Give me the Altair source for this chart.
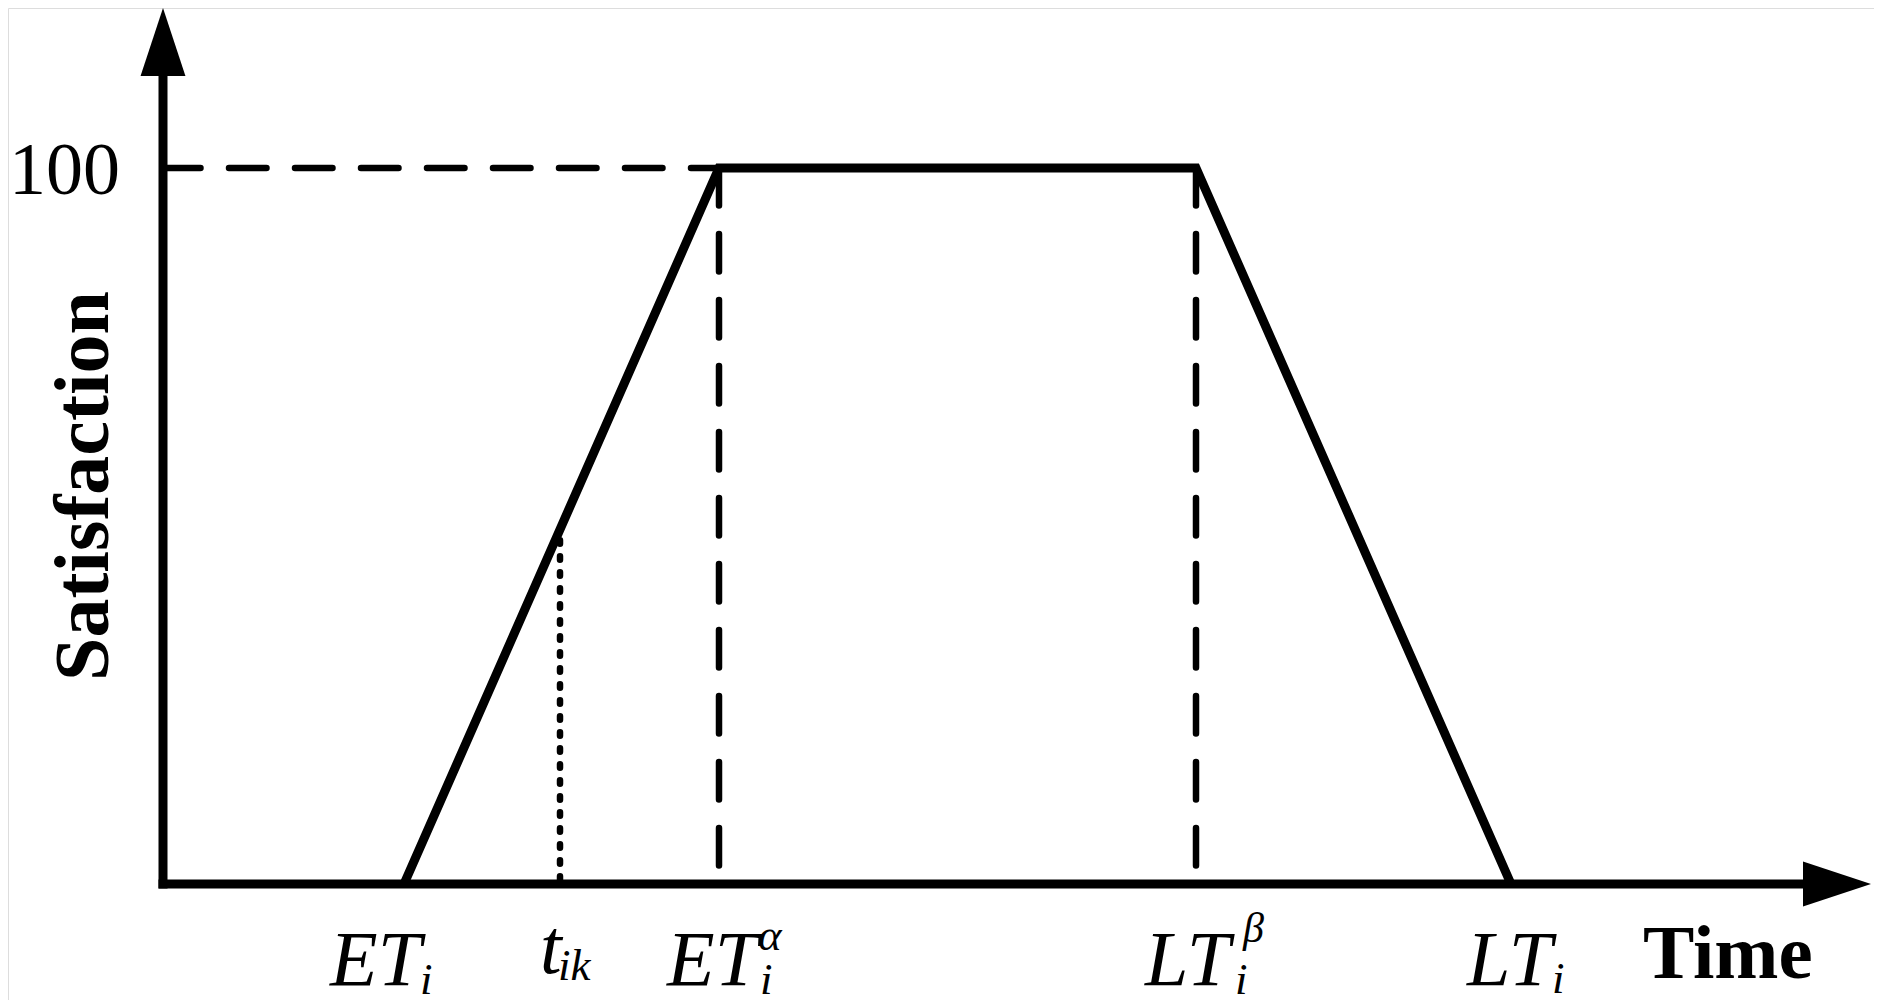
import altair as alt
import pandas as pd

# ---------------- data ----------------
curve_time = [24.1, 55.6, 103.3, 134.8]          # ET_i, ET_i^a, LT_i^b, LT_i
curve_sat = [0, 100, 100, 0]
tick_names = ["ET_i", "t_ik", "ET_i^alpha", "LT_i^beta", "LT_i"]
tick_time = [24.1, 39.7, 55.6, 103.3, 134.8]
t_ik_sat = 48.0
sat_max = 100
y_tick_label = "100"
axis_time_tip = 170.8
axis_sat_tip = 122.35

# ---------------- scales ----------------
W, H = 1866, 992
xs = alt.Scale(domain=[-15.5, 171.1], nice=False, zero=False)
ys = alt.Scale(domain=[-16.2, 122.35], nice=False, zero=False)
SERIF = "Liberation Serif"


def X(f="t"):
    return alt.X(f + ":Q", scale=xs, axis=None)


def Y(f="s"):
    return alt.Y(f + ":Q", scale=ys, axis=None)


tick = dict(zip(tick_names, tick_time))

# axes lines
axis_df = pd.DataFrame({"t": [0.0], "s": [0.0],
                        "t2": [axis_time_tip - 6.0], "s2": [axis_sat_tip - 8.5]})
x_axis = alt.Chart(axis_df).mark_rule(color="black", strokeWidth=9, strokeCap="square").encode(
    x=X(), x2="t2:Q", y=Y())
y_axis = alt.Chart(axis_df).mark_rule(color="black", strokeWidth=9, strokeCap="square").encode(
    x=X(), y=Y(), y2="s2:Q")

# arrow heads
x_arrow = alt.Chart(pd.DataFrame({"t": [axis_time_tip], "s": [0.0]})).mark_point(
    shape="M0,0L-2,-0.66L-2,0.66Z", size=4624, filled=True, fill="black",
    strokeWidth=0, opacity=1).encode(x=X(), y=Y())
y_arrow = alt.Chart(pd.DataFrame({"t": [0.0], "s": [axis_sat_tip]})).mark_point(
    shape="M0,0L-0.66,2L0.66,2Z", size=4624, filled=True, fill="black",
    strokeWidth=0, opacity=1).encode(x=X(), y=Y())

# dashed guide lines
h_dash = alt.Chart(pd.DataFrame({"t": [0.0], "t2": [tick["ET_i^alpha"]], "s": [sat_max]})).mark_rule(
    color="black", strokeWidth=6.5, strokeDash=[37.5, 28.5], strokeCap="round").encode(
    x=X(), x2="t2:Q", y=Y())
v_dash = alt.Chart(pd.DataFrame({"t": [tick["ET_i^alpha"], tick["LT_i^beta"]],
                                 "s": [sat_max, sat_max], "s2": [0.0, 0.0]})).mark_rule(
    color="black", strokeWidth=6.5, strokeDash=[37.5, 28.5], strokeCap="round").encode(
    x=X(), y=Y(), y2="s2:Q")
dotted = alt.Chart(pd.DataFrame({"t": [tick["t_ik"]], "s": [t_ik_sat], "s2": [0.0]})).mark_rule(
    color="black", strokeWidth=6.5, strokeDash=[3.5, 12.5], strokeCap="round").encode(
    x=X(), y=Y(), y2="s2:Q")

# satisfaction curve
curve_df = pd.DataFrame({"t": curve_time, "s": curve_sat, "i": range(len(curve_time))})
curve = alt.Chart(curve_df).mark_line(color="black", strokeWidth=9, strokeJoin="miter",
                                      strokeMiterLimit=20).encode(
    x=X(), y=Y(), order="i:Q")

# tick labels (main text, subscript, superscript pieces)
pieces = [
    ("ET_i", "ET", -74, 101, 78), ("ET_i", "i", 16, 110, 45),
    ("t_ik", "t", -20, 89, 78), ("t_ik", "ik", -2, 96, 45),
    ("ET_i^alpha", "ET", -52, 101, 78), ("ET_i^alpha", "i", 41, 110, 45), ("ET_i^alpha", "α", 39, 66, 45),
    ("LT_i^beta", "LT", -51, 101, 78), ("LT_i^beta", "i", 39, 110, 45), ("LT_i^beta", "β", 47, 58, 42),
    ("LT_i", "LT", -44, 101, 78), ("LT_i", "i", 41, 109, 45),
]
label_layers = []
for name, txt, dx, dy, fs in pieces:
    d = pd.DataFrame({"t": [tick[name]], "s": [0.0], "txt": [txt]})
    label_layers.append(
        alt.Chart(d).mark_text(align="left", baseline="alphabetic", dx=dx, dy=dy,
                               font=SERIF, fontStyle="italic", fontSize=fs, color="black").encode(
            x=X(), y=Y(), text="txt:N"))

# y tick label "100"
y_lab = alt.Chart(pd.DataFrame({"t": [0.0], "s": [float(sat_max)], "txt": [y_tick_label]})).mark_text(
    align="right", baseline="alphabetic", dx=-43, dy=26, font=SERIF, fontSize=74, color="black").encode(
    x=X(), y=Y(), text="txt:N")

# axis titles
y_title = alt.Chart(pd.DataFrame({"txt": ["Satisfaction"]})).mark_text(
    angle=270, align="center", baseline="alphabetic", font=SERIF, fontWeight="bold",
    fontSize=78, color="black").encode(x=alt.value(100), y=alt.value(478), text="txt:N")
x_title = alt.Chart(pd.DataFrame({"txt": ["Time"]})).mark_text(
    align="left", baseline="alphabetic", font=SERIF, fontWeight="bold",
    fontSize=77, color="black").encode(x=alt.value(1635), y=alt.value(970), text="txt:N")

chart = alt.layer(
    h_dash, v_dash, dotted, curve, x_axis, y_axis, x_arrow, y_arrow, y_lab,
    *label_layers, y_title, x_title
).properties(
    width=W, height=H, autosize=alt.AutoSizeParams(type="none"), padding=0
).configure_view(strokeWidth=0, stroke=None).configure(background="white")

chart.save("out.html", embed_options={"renderer": "svg", "actions": False})
